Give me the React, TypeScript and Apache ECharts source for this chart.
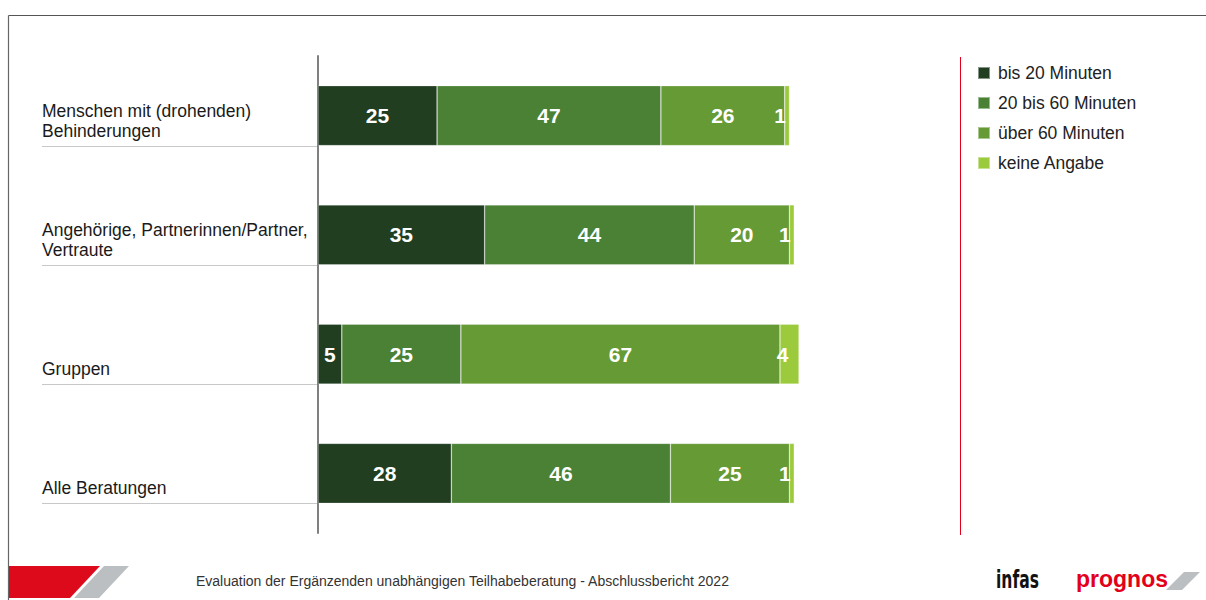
import React, { useEffect, useRef } from "react";
import * as echarts from "echarts";

const categories = [
  "Menschen mit (drohenden)\nBehinderungen",
  "Angehörige, Partnerinnen/Partner,\nVertraute",
  "Gruppen",
  "Alle Beratungen",
];
const seriesNames = ["bis 20 Minuten", "20 bis 60 Minuten", "über 60 Minuten", "keine Angabe"];
const bis20 = [25, 35, 5, 28];
const bis60 = [47, 44, 25, 46];
const ueber60 = [26, 20, 67, 25];
const keineAngabe = [1, 1, 4, 1];
const colors = ["#213e21", "#4a8134", "#669a35", "#9bcb3c"];
const footerText = "Evaluation der Ergänzenden unabhängigen Teilhabeberatung - Abschlussbericht 2022";

const FONT = "'Liberation Sans', Arial, sans-serif";

export default function App() {
  const ref = useRef<HTMLDivElement>(null);
  useEffect(() => {
    document.body.style.margin = "0";
    const chart = echarts.init(ref.current!, null, { renderer: "svg" });
    const values = [bis20, bis60, ueber60, keineAngabe];
    const series = values.map((v, i) => ({
      name: seriesNames[i],
      type: "bar",
      stack: "total",
      data: v,
      barWidth: 60,
      itemStyle: { color: colors[i], borderColor: "rgba(255,255,255,0.45)", borderWidth: 0.6 },
      label: {
        show: true,
        position: "inside",
        offset: i === 3 ? [-7, 0] : [0, 0],
        color: "#ffffff",
        fontFamily: FONT,
        fontWeight: "bold",
        fontSize: 21,
      },
    }));
    const baseGraphic: any[] = [
      { type: "line", shape: { x1: 8.5, y1: 15.5, x2: 1206, y2: 15.5 }, style: { stroke: "#555", lineWidth: 1 } },
      { type: "line", shape: { x1: 8.5, y1: 15.5, x2: 8.5, y2: 600 }, style: { stroke: "#666", lineWidth: 1.2 } },
      { type: "line", shape: { x1: 960.5, y1: 57, x2: 960.5, y2: 535 }, style: { stroke: "#e2001a", lineWidth: 1 } },
      { type: "polygon", shape: { points: [[9, 566], [100, 566], [70, 598], [9, 598]] }, style: { fill: "#dd0a1c" } },
      { type: "polygon", shape: { points: [[104, 566], [129, 566], [99, 598], [74, 598]] }, style: { fill: "#bcbfc1" } },
      { type: "text", x: 196, y: 581, style: { text: footerText, font: `14px ${FONT}`, fill: "#333", verticalAlign: "middle" } },
      { type: "text", x: 996, y: 580, scaleX: 0.72, style: { text: "infas", font: `bold 24px 'DejaVu Sans Condensed', 'DejaVu Sans', sans-serif`, fill: "#111", verticalAlign: "middle" } },
      { type: "text", x: 1076, y: 579, style: { text: "prognos", font: `bold 23px ${FONT}`, fill: "#e2001a", verticalAlign: "middle" } },
      { type: "polygon", shape: { points: [[1184, 572], [1200, 572], [1182, 590], [1166, 590]] }, style: { fill: "#bcbfc1" } },
    ];
    chart.setOption({
      animation: false,
      backgroundColor: "#ffffff",
      grid: { left: 318, top: 56, width: 481, height: 477, containLabel: false },
      xAxis: { type: "value", min: 0, max: 101, show: false },
      yAxis: {
        type: "category",
        data: categories,
        inverse: true,
        axisLine: { show: true, lineStyle: { color: "#808080", width: 2 } },
        axisTick: { show: false },
        axisLabel: { show: false },
      },
      legend: {
        orient: "vertical",
        left: 977,
        top: 64,
        padding: 0,
        itemWidth: 12,
        itemHeight: 12,
        itemGap: 12,
        icon: "rect",
        textStyle: { fontFamily: FONT, fontSize: 17.5, color: "#222", padding: [0, 0, 0, 3] },
        data: seriesNames,
      },
      series,
      graphic: baseGraphic,
    } as any);
    const extra: any[] = [];
    categories.forEach((c, i) => {
      const yc = chart.convertToPixel({ yAxisIndex: 0 }, i) as number;
      const yb = Math.round(yc + 30) + 0.5;
      extra.push({ type: "line", shape: { x1: 42, y1: yb, x2: 318, y2: yb }, style: { stroke: "#c8c8c8", lineWidth: 1 } });
      extra.push({
        type: "text",
        x: 42,
        y: yb - 6,
        style: { text: c, font: `17.5px ${FONT}`, fill: "#1a1a1a", verticalAlign: "bottom", lineHeight: 20 },
      });
    });
    chart.setOption({ graphic: [...baseGraphic, ...extra] } as any);
    return () => chart.dispose();
  }, []);
  return <div ref={ref} style={{ position: "absolute", left: 0, top: 0, width: 1206, height: 600 }} />;
}
